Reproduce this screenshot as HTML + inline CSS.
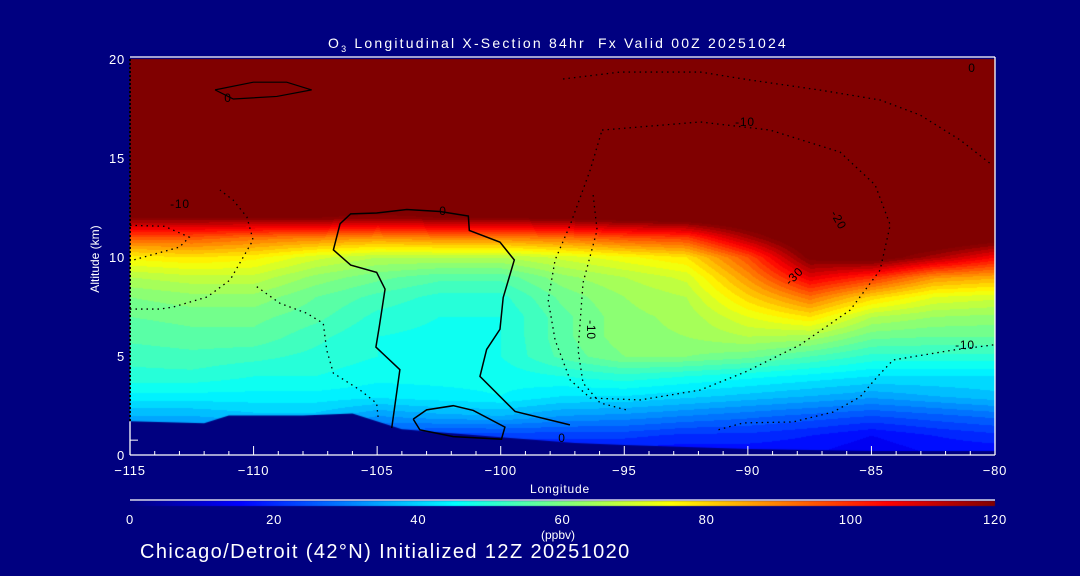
<!DOCTYPE html>
<html><head><meta charset="utf-8"><style>
html,body{margin:0;padding:0;background:#000080;}
#root{position:relative;width:1080px;height:576px;background:#000080;overflow:hidden;font-family:"Liberation Sans",sans-serif;color:#fff;}
.t{position:absolute;white-space:nowrap;color:#fff;}
canvas,svg{position:absolute;left:0;top:0;}
</style></head><body>
<div id="root">
<canvas id="cv" width="1080" height="576"></canvas>
<svg id="sv" width="1080" height="576"></svg>
<div class="t" style="left:328px;top:35px;font-size:14px;letter-spacing:2.2px;">O<sub style="font-size:9px">3</sub> Longitudinal X-Section 84hr&nbsp; Fx Valid 00Z 20251024</div>
<div class="t" style="left:50px;top:252px;font-size:12px;transform:rotate(-90deg);transform-origin:center;width:90px;text-align:center;">Altitude (km)</div>
<div class="t" style="left:530px;top:482px;font-size:12px;letter-spacing:0.8px;">Longitude</div>
<div class="t" style="left:541px;top:528px;font-size:12px;">(ppbv)</div>
<div class="t" style="left:140px;top:541px;font-size:20px;letter-spacing:1.4px;">Chicago/Detroit (42°N) Initialized 12Z 20251020</div>
</div>
<script>
const lons=[-115,-112.5,-110,-107.5,-105,-102.5,-100,-97.5,-95,-92.5,-90,-87.5,-85,-82.5,-80];
const alts=[0,1,2,3,4,5,6,7,8,9,10,11,12,13,14,15,16,17,18,19,20];
const o3=[
[15,15,15,15,15,15,15,15,15,15,15,15,12,15,15],
[28,28,28,28,25,22,22,22,22,20,20,18,15,18,20],
[36,36,38,38,33,35,36,33,32,30,28,26,24,26,28],
[44,44,44,44,43,44,45,42,42,40,38,36,34,36,38],
[50,50,48,48,46,46,46,48,50,48,46,44,42,42,42],
[52,53,52,50,48,47,48,55,60,60,58,54,50,50,50],
[55,56,56,52,48,47,48,56,62,63,66,65,58,57,57],
[57,58,58,55,50,48,48,56,62,64,72,78,66,63,62],
[60,62,62,57,53,50,50,58,63,66,80,92,80,72,70],
[66,68,68,62,58,55,55,62,66,70,88,108,100,88,85],
[76,78,76,70,66,66,66,70,74,78,96,122,125,115,105],
[95,95,92,90,88,90,90,92,96,98,115,130,130,130,125],
[120,120,120,120,118,120,120,122,124,126,130,130,130,130,130],
[130,130,130,130,130,130,130,130,130,130,130,130,130,130,130],
[130,130,130,130,130,130,130,130,130,130,130,130,130,130,130],
[130,130,130,130,130,130,130,130,130,130,130,130,130,130,130],
[130,130,130,130,130,130,130,130,130,130,130,130,130,130,130],
[130,130,130,130,130,130,130,130,130,130,130,130,130,130,130],
[130,130,130,130,130,130,130,130,130,130,130,130,130,130,130],
[130,130,130,130,130,130,130,130,130,130,130,130,130,130,130],
[130,130,130,130,130,130,130,130,130,130,130,130,130,130,130]];
const terrainLon=[-115,-112,-111,-108,-106,-104,-100,-97,-95,-90,-85,-80];
const terrainAlt=[1.7,1.6,2.0,2.0,2.1,1.3,0.9,0.6,0.5,0.3,0.2,0.2];
const xTicks=[-115,-110,-105,-100,-95,-90,-85,-80];
const yTicks=[0,5,10,15,20];
const cbTicks=[0,20,40,60,80,100,120];
const c0Lon=[-104.41,-104.08,-105.05,-104.91,-104.68,-105.02,-106.07,-106.77,-106.5,-106.07,-105.02,-103.8,-102.46,-101.31,-101.27,-100.03,-99.45,-99.9,-100.03,-100.57,-100.84,-99.42,-97.2];
const c0Alt=[1.36,4.31,5.45,6.51,8.38,9.22,9.59,10.36,11.68,12.18,12.22,12.4,12.3,12.07,11.34,10.75,9.85,7.95,6.35,5.33,3.97,2.2,1.52];
const c0bLon=[-103.54,-103.0,-101.92,-101.11,-99.83,-99.97,-101.92,-103.27,-103.54];
const c0bAlt=[1.81,2.28,2.49,2.25,1.41,0.8,0.93,1.27,1.81];
const c0cLon=[-111.56,-110.01,-108.66,-107.65,-109.06,-110.82,-111.56];
const c0cAlt=[18.44,18.83,18.83,18.44,18.11,17.98,18.44];
const d1Lon=[-97.48,-95.17,-91.93,-89.91,-87.08,-84.65,-83.03,-81.41,-80.12];
const d1Alt=[18.99,19.34,19.34,18.94,18.43,17.93,17.17,15.91,14.65];
const d2Lon=[-95.9,-91.93,-89.1,-86.27,-84.85,-84.24,-84.65,-85.86,-87.89,-90.11,-91.93,-94.36,-96.38,-97.19,-97.8,-98.08,-97.8,-97.19,-96.38,-95.9];
const d2Alt=[16.41,16.82,16.41,15.3,13.64,11.62,9.34,7.32,5.56,4.19,3.28,2.78,2.88,3.79,5.81,7.83,9.85,11.62,14.39,16.41];
const d3Lon=[-115,-113.79,-113.26,-111.88,-110.95,-110.02,-110.27,-110.83,-111.36];
const d3Alt=[7.37,7.37,7.47,7.98,8.84,10.86,12.02,12.88,13.38];
const d4Lon=[-109.87,-108.93,-107.85,-107.18,-107.04,-106.77,-105.69,-105.02,-104.95];
const d4Alt=[8.5,7.66,7.16,6.65,5.3,4.13,3.28,2.61,1.77];
const d5Lon=[-96.26,-96.1,-96.67,-96.87,-96.67,-95.98,-94.89];
const d5Alt=[13.13,11.36,8.69,5.3,3.64,2.63,2.27];
const d6Lon=[-80.07,-81.69,-84.12,-84.77,-85.46,-86.55,-88.17,-90.19,-91.24];
const d6Alt=[5.56,5.3,4.8,3.94,2.93,2.17,1.67,1.62,1.26];
const d7Lon=[-115,-113.6,-112.6,-113.0,-115];
const d7Alt=[11.6,11.55,11.0,10.5,9.8];

const X0=130,X1=995,Y0=455,Y1=59;
const xs=l=>X0+(l+115)/35*(X1-X0);
const ys=a=>Y0-a/20*(Y0-Y1);
function jet(v){let t=Math.max(0,Math.min(1,v/120));
 const f=(c)=>Math.max(0,Math.min(1,1.5-Math.abs(4*t-c)));
 return [255*f(3),255*f(2),255*f(1)];}
function sample(lon,alt){
 let i=0;while(i<lons.length-2&&lon>lons[i+1])i++;
 let j=0;while(j<alts.length-2&&alt>alts[j+1])j++;
 const u=Math.max(0,Math.min(1,(lon-lons[i])/(lons[i+1]-lons[i])));
 const w=Math.max(0,Math.min(1,(alt-alts[j])/(alts[j+1]-alts[j])));
 return o3[j][i]*(1-u)*(1-w)+o3[j][i+1]*u*(1-w)+o3[j+1][i]*(1-u)*w+o3[j+1][i+1]*u*w;}
const cv=document.getElementById('cv');const ctx=cv.getContext('2d');
const img=ctx.createImageData(X1-X0,Y0-Y1);
for(let py=0;py<Y0-Y1;py++){const alt=(Y0-(Y1+py))/(Y0-Y1)*20;
 for(let px=0;px<X1-X0;px++){const lon=-115+px/(X1-X0)*35;
  let v=Math.floor(sample(lon,alt)/3)*3+1.5;const c=jet(v);const k=(py*(X1-X0)+px)*4;
  img.data[k]=c[0];img.data[k+1]=c[1];img.data[k+2]=c[2];img.data[k+3]=255;}}
ctx.putImageData(img,X0,Y1);
ctx.fillStyle='#000080';ctx.beginPath();ctx.moveTo(xs(-115),Y0);
for(let i=0;i<terrainLon.length;i++)ctx.lineTo(xs(terrainLon[i]),ys(terrainAlt[i]));
ctx.lineTo(xs(-80),Y0);ctx.closePath();ctx.fill();
for(let px=X0;px<X1;px++){const c=jet((px-X0)/(X1-X0)*120);ctx.fillStyle=`rgb(${c[0]|0},${c[1]|0},${c[2]|0})`;ctx.fillRect(px,501,1,5);}

const NS='http://www.w3.org/2000/svg';const sv=document.getElementById('sv');
function el(tag,attrs){const e=document.createElementNS(NS,tag);for(const k in attrs)e.setAttribute(k,attrs[k]);sv.appendChild(e);return e;}
function line(lo,al,dash,w,name){const p=el('polyline',{points:lo.map((l,i)=>xs(l)+','+ys(al[i])).join(' '),fill:'none',stroke:'#000','stroke-width':w,'stroke-dasharray':dash});
 
 }
line(c0Lon,c0Alt,'none',1.5,'contour-zero');
line(c0bLon,c0bAlt,'none',1.5,'contour-zero-low');
line(c0cLon,c0cAlt,'none',1.2,'contour-zero-top');
[[d1Lon,d1Alt],[d2Lon,d2Alt],[d3Lon,d3Alt],[d4Lon,d4Alt],[d5Lon,d5Alt],[d6Lon,d6Alt],[d7Lon,d7Alt]].forEach((d,k)=>line(d[0],d[1],'1.5 4',1.3,'contour-negative-'+k));
function txt(x,y,s,sz,anchor,name,col,rot){const t=el('text',{x:x,y:y,'font-size':sz,fill:col||'#fff','text-anchor':anchor||'middle','font-family':'Liberation Sans, sans-serif','letter-spacing':'0.8'});
 if(rot)t.setAttribute('transform',`rotate(${rot} ${x} ${y})`);t.textContent=s;
 
 }
[[180,208,'-10',0],[443,215,'0',0],[745,126,'-10',0],[835,222,'-20',60],[797,279,'-30',-45],[587,330,'-10',90],[965,349,'-10',0],[972,72,'0',0],[228,102,'0',0],[562,442,'0',0]].forEach(l=>txt(l[0],l[1],l[2],12,'middle','contour-label','#000',l[3]));
const ax=el('path',{d:`M${X0} ${Y0}H${X1}M${X0} ${Y1-2}H${X1}M${X1} ${Y1-2}V${Y0}M${X0} ${Y0}V${ys(terrainAlt[0])}M${X0} 500H${X1}`,stroke:'#fff','stroke-width':1.3,fill:'none'});


for(let l=-115;l<=-80;l++){const m=(l%5===0);const tk=el('line',{x1:xs(l),x2:xs(l),y1:Y0,y2:Y0-(m?9:4),stroke:'#fff','stroke-width':1});
 
 }
el('line',{x1:X0,x2:X0+8,y1:ys(0.75),y2:ys(0.75),stroke:'#fff'});
el('line',{x1:X0,x2:X0,y1:Y1,y2:ys(terrainAlt[0]),stroke:'#000','stroke-width':2,'stroke-dasharray':'2 2'});
xTicks.forEach(v=>txt(xs(v),475,String(v).replace('-','\u2212'),13,'middle','x-tick-label'));
yTicks.forEach(v=>txt(X0-5,ys(v)+5,String(v),13,'end','y-tick-label'));
cbTicks.forEach(v=>txt(X0+v/120*(X1-X0),524,String(v),13,'middle','colorbar-tick-label'));
</script>
</body></html>
